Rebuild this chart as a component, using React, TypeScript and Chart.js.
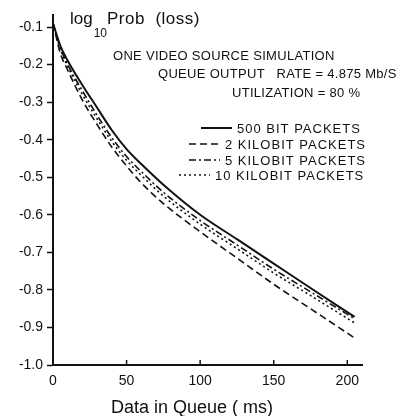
import React, { useEffect, useRef } from "react";
import { Chart, registerables } from "chart.js";

Chart.register(...registerables);

// ---- data ----
const xValues = [0, 5, 10, 20, 30, 40, 50, 60, 75, 100, 125, 150, 175, 205];
const bit500 = [-0.09, -0.15, -0.19, -0.255, -0.315, -0.375, -0.425, -0.465, -0.52, -0.6, -0.665, -0.73, -0.795, -0.872];
const kbit2 = [-0.09, -0.17, -0.215, -0.295, -0.36, -0.42, -0.47, -0.515, -0.57, -0.645, -0.715, -0.785, -0.85, -0.928];
const kbit5 = [-0.09, -0.155, -0.2, -0.27, -0.335, -0.395, -0.445, -0.485, -0.54, -0.615, -0.68, -0.745, -0.805, -0.877];
const kbit10 = [-0.09, -0.16, -0.205, -0.28, -0.345, -0.405, -0.455, -0.495, -0.55, -0.625, -0.69, -0.755, -0.815, -0.888];

const seriesLabels = ["500 BIT PACKETS", "2 KILOBIT PACKETS", "5 KILOBIT PACKETS", "10 KILOBIT PACKETS"];
const xTicks = [0, 50, 100, 150, 200];
const yTicks = [-0.1, -0.2, -0.3, -0.4, -0.5, -0.6, -0.7, -0.8, -0.9, -1.0];
const annotationLines = [
  "ONE VIDEO SOURCE SIMULATION",
  "QUEUE OUTPUT   RATE = 4.875 Mb/S",
  "UTILIZATION = 80 %",
];
const xTitle = "Data in Queue ( ms)";

const INK = "#111111";
const FONT = "'Liberation Sans', Arial, sans-serif";
const dashes = [[], [7, 4], [7, 3, 2, 3], [2, 3]];
const widths = [2, 1.6, 1.6, 1.6];

const decorPlugin = {
  id: "decor",
  afterDraw(chart: any) {
    const ctx = chart.ctx as CanvasRenderingContext2D;
    const xs = chart.scales.x;
    ctx.save();
    ctx.strokeStyle = INK;
    ctx.fillStyle = INK;
    // inner x tick marks
    ctx.lineWidth = 1.5;
    const bottom = chart.chartArea.bottom;
    xTicks.forEach((v) => {
      if (v === 0) return;
      const px = xs.getPixelForValue(v);
      ctx.beginPath();
      ctx.moveTo(px, bottom);
      ctx.lineTo(px, bottom - 5);
      ctx.stroke();
    });

    // y title: log10 Prob (loss)
    ctx.textBaseline = "alphabetic";
    ctx.textAlign = "left";
    ctx.font = `17px ${FONT}`;
    ctx.fillText("log", 70, 24);
    const wLog = ctx.measureText("log").width;
    ctx.font = `12px ${FONT}`;
    ctx.fillText("10", 70 + wLog + 1, 37);
    const w10 = ctx.measureText("10").width;
    ctx.font = `17px ${FONT}`;
    (ctx as any).letterSpacing = "0.5px";
    ctx.fillText("Prob  (loss)", 70 + wLog + w10 + 1, 24);
    (ctx as any).letterSpacing = "0px";

    // x title
    ctx.font = `18px ${FONT}`;
    ctx.textAlign = "center";
    ctx.fillText(xTitle, 192, 413);

    // annotation
    ctx.font = `13px ${FONT}`;
    ctx.textAlign = "left";
    (ctx as any).letterSpacing = "0.3px";
    const annX = [113, 158, 232];
    const annY = [60, 78, 97];
    annotationLines.forEach((t, i) => ctx.fillText(t, annX[i], annY[i]));

    // legend
    (ctx as any).letterSpacing = "1px";
    const legX = [237, 225, 225, 215];
    const legY = [133, 149, 165, 180];
    seriesLabels.forEach((t, i) => {
      const tx = legX[i];
      const ty = legY[i];
      ctx.fillText(t, tx, ty);
      ctx.beginPath();
      ctx.setLineDash(dashes[i]);
      ctx.lineWidth = widths[i];
      ctx.moveTo(tx - 36, ty - 5);
      ctx.lineTo(tx - 5, ty - 5);
      ctx.stroke();
      ctx.setLineDash([]);
    });
    (ctx as any).letterSpacing = "0px";
    ctx.restore();
  },
};

export default function App() {
  const ref = useRef<HTMLCanvasElement | null>(null);
  useEffect(() => {
    if (!ref.current) return;
    const all = [bit500, kbit2, kbit5, kbit10];
    const chart = new Chart(ref.current, {
      type: "line",
      data: {
        datasets: all.map((s, i) => ({
          label: seriesLabels[i],
          data: xValues.map((x, j) => ({ x, y: s[j] })),
          borderColor: INK,
          borderWidth: widths[i],
          borderDash: dashes[i],
          pointRadius: 0,
          fill: false,
          cubicInterpolationMode: "monotone" as const,
        })),
      },
      options: {
        responsive: false,
        animation: false,
        layout: { padding: { top: 15, right: 44, left: 0, bottom: 0 } },
        plugins: { legend: { display: false }, tooltip: { enabled: false } },
        scales: {
          x: {
            type: "linear",
            min: 0,
            max: 210,
            afterBuildTicks: (s: any) => {
              s.ticks = xTicks.map((v) => ({ value: v }));
            },
            afterFit: (s: any) => {
              s.height = 51;
            },
            ticks: {
              padding: 8,
              color: INK,
              font: { family: FONT, size: 14 },
              callback: (v: any) => String(v),
              maxRotation: 0,
            },
            grid: { display: false, drawTicks: false },
            border: { display: true, color: INK, width: 2 },
          },
          y: {
            type: "linear",
            min: -1.0,
            max: -0.068,
            afterBuildTicks: (s: any) => {
              s.ticks = yTicks.map((v) => ({ value: v }));
            },
            afterFit: (s: any) => {
              s.width = 53;
            },
            ticks: {
              padding: 4,
              color: INK,
              font: { family: FONT, size: 14 },
              callback: (v: any) => Number(v).toFixed(1),
            },
            grid: {
              display: true,
              drawOnChartArea: false,
              drawTicks: true,
              tickLength: 6,
              tickWidth: 1.5,
              tickColor: INK,
              color: INK,
            },
            border: { display: true, color: INK, width: 2 },
          },
        },
      },
      plugins: [decorPlugin],
    });
    return () => chart.destroy();
  }, []);
  return (
    <div style={{ position: "absolute", left: 0, top: 0, width: 406, height: 416, background: "#fff" }}>
      <canvas ref={ref} width={406} height={416} style={{ display: "block" }} />
    </div>
  );
}
